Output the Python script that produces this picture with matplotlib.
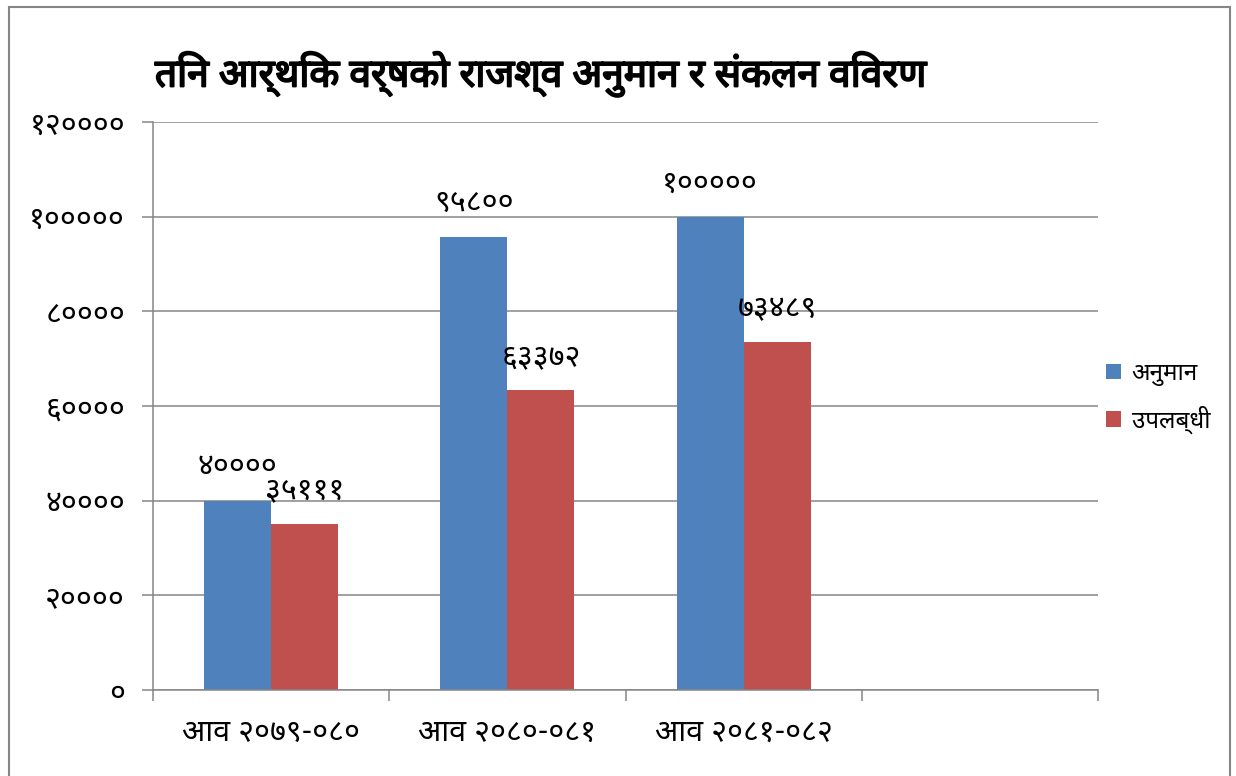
import matplotlib
matplotlib.use("Agg")
import numpy as np
import matplotlib.pyplot as plt
import matplotlib.patheffects as pe
from matplotlib.patches import Rectangle
from matplotlib.ticker import FuncFormatter, FixedLocator

# ============================================================
# DATA
# ============================================================

categories = ["आव २०७९-०८०", "आव २०८०-०८१", "आव २०८१-०८२", ""]
estimate = [40000, 95800, 100000]
achieved = [35111, 63372, 73489]
series_names = ["अनुमान", "उपलब्धी"]
title = "तिन आर्थिक वर्षको राजश्व अनुमान र संकलन विवरण"
y_ticks = [0, 20000, 40000, 60000, 80000, 100000, 120000]

plt.rcParams["font.family"] = ["Noto Sans Devanagari", "Noto Sans", "DejaVu Sans"]

NEPALI_DIGITS = str.maketrans("0123456789", "०१२३४५६७८९")


def to_nepali(v):
    return str(int(round(v))).translate(NEPALI_DIGITS)


# ============================================================
# PLOT
# ============================================================

BLUE = "#4F81BD"
RED = "#C0504D"
GREY = "#868686"

fig = plt.figure(figsize=(12.36, 7.76), dpi=100)
ax = fig.add_axes([153 / 1236, 1 - 690 / 776, 945 / 1236, 568 / 776])

x = np.arange(len(estimate))
w = 0.284
b1 = ax.bar(x - w / 2, estimate, w, color=BLUE, label=series_names[0], zorder=3)
b2 = ax.bar(x + w / 2, achieved, w, color=RED, label=series_names[1], zorder=3)

for bars in (b1, b2):
    for bar in bars:
        h = bar.get_height()
        ax.annotate(to_nepali(h), (bar.get_x() + bar.get_width() / 2, h),
                    xytext=(0, 24), textcoords="offset points",
                    ha="center", va="center", fontsize=22, zorder=4)

ax.set_xlim(-0.5, len(categories) - 0.5)
ax.set_ylim(0, 120000)
ax.set_yticks(y_ticks)
ax.yaxis.set_major_formatter(FuncFormatter(lambda v, p: to_nepali(v)))
ax.set_xticks(np.arange(len(categories)))
ax.set_xticklabels(categories)
ax.xaxis.set_minor_locator(FixedLocator(np.arange(len(categories) + 1) - 0.5))

ax.tick_params(axis="x", which="major", length=0, pad=20, labelsize=22)
ax.tick_params(axis="x", which="minor", length=8, width=1.1, color=GREY)
ax.tick_params(axis="y", length=8, width=1.1, color=GREY, pad=12, labelsize=22)

ax.grid(axis="y", color=GREY, linewidth=1.1, zorder=0)
for side in ("top", "right"):
    ax.spines[side].set_visible(False)
for side in ("left", "bottom"):
    ax.spines[side].set_color(GREY)
    ax.spines[side].set_linewidth(1.1)
    ax.spines[side].set_zorder(5)

# the Devanagari face has no bold, so thicken the strokes a little
fig.text(541 / 1236, 1 - 74 / 776, title, ha="center", va="center",
         fontsize=28, fontweight="bold",
         path_effects=[pe.withStroke(linewidth=1.3, foreground="black")])

ax.legend(loc="center left", bbox_to_anchor=(1106 / 1236, 1 - 398 / 776),
          bbox_transform=fig.transFigure, frameon=False, fontsize=17.5,
          handlelength=0.6, handleheight=0.6, handletextpad=0.45,
          labelspacing=0.8, borderpad=0, borderaxespad=0)

fig.patches.append(Rectangle((9 / 1236, -0.05), 1221 / 1236, 1.05 - 7 / 776,
                             transform=fig.transFigure, fill=False,
                             edgecolor=GREY, linewidth=1.5))

fig.savefig("out.png", dpi=100)
